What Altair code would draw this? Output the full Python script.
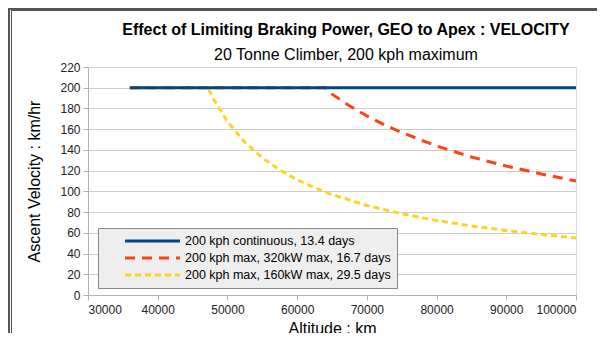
import altair as alt
import pandas as pd

series_names = [
    "200 kph continuous, 13.4 days",
    "200 kph max, 320kW max, 16.7 days",
    "200 kph max, 160kW max, 29.5 days",
]
series_colors = ["#004586", "#ff420e", "#ffd320"]
series_dashes = [[1, 0], [10, 7], [6, 4]]

# Series 1: constant 200 kph
alt_blue = [36000, 100000]
vel_blue = [200, 200]

# Series 2: 320 kW braking limit
alt_red = [36000, 64000, 65000, 67500, 70000, 72500, 75000, 80000, 85000, 90000, 95000, 100000]
vel_red = [200, 200, 193.8, 182.6, 172.8, 164.3, 156.8, 143.8, 133.2, 124.4, 116.8, 110.0]

# Series 3: 160 kW braking limit
alt_yel = [36000, 47200, 48000, 50000, 52500, 55000, 57500, 60000, 62500, 65000, 70000, 75000,
           80000, 85000, 90000, 95000, 100000]
vel_yel = [200, 200, 189.2, 167.4, 147.4, 132.4, 120.7, 111.2, 103.5, 96.9, 86.4, 78.4,
           71.9, 66.6, 62.2, 58.4, 55.0]

x_ticks = [30000, 40000, 50000, 60000, 70000, 80000, 90000, 100000]
y_ticks = [0, 20, 40, 60, 80, 100, 120, 140, 160, 180, 200, 220]

rows = []
for name, xs, ys in zip(series_names, [alt_blue, alt_red, alt_yel], [vel_blue, vel_red, vel_yel]):
    for x, y in zip(xs, ys):
        rows.append({"series": name, "altitude": x, "velocity": y})
df = pd.DataFrame(rows)

color_scale = alt.Scale(domain=series_names, range=series_colors)
dash_scale = alt.Scale(domain=series_names, range=series_dashes)

legend = alt.Legend(
    title=None,
    orient="none",
    legendX=10,
    legendY=161,
    fillColor="#eeeeee",
    strokeColor="#888888",
    padding=6,
    symbolType="M-5,0H5",
    symbolSize=121,
    symbolStrokeWidth=3,
    symbolOffset=41.5,
    labelFontSize=12.5,
    labelFont="Liberation Sans",
    labelColor="#000000",
    labelOffset=25.5,
    labelLimit=400,
    rowPadding=3,
    offset=0,
)

x_enc = alt.X(
    "altitude:Q",
    scale=alt.Scale(domain=[30000, 100000], nice=False),
    axis=alt.Axis(
        values=x_ticks, format="d", grid=False, title="Altitude : km",
        labelFontSize=12, titleFontSize=16, titleFontWeight="normal",
        labelColor="#222222", titleColor="#000000", titlePadding=5,
        tickColor="#b3b3b3", domainColor="#b3b3b3", tickSize=5, labelPadding=4,
        labelFont="Liberation Sans", titleFont="Liberation Sans",
    ),
)
y_enc = alt.Y(
    "velocity:Q",
    scale=alt.Scale(domain=[0, 220], nice=False),
    axis=alt.Axis(
        values=y_ticks, grid=True, gridColor="#cccccc", title="Ascent Velocity : km/hr",
        labelFontSize=12, titleFontSize=16, titleFontWeight="normal",
        labelColor="#222222", titleColor="#000000", titlePadding=17,
        tickColor="#b3b3b3", domainColor="#b3b3b3", tickSize=5, labelPadding=3,
        labelFont="Liberation Sans", titleFont="Liberation Sans",
    ),
)

enc = dict(
    x=x_enc,
    y=y_enc,
    color=alt.Color("series:N", scale=color_scale, legend=legend, sort=series_names),
    strokeDash=alt.StrokeDash("series:N", scale=dash_scale, legend=legend, sort=series_names),
)

lines_under = alt.Chart(df).transform_filter(
    alt.datum.series != series_names[0]
).mark_line(strokeWidth=3, strokeCap="butt").encode(**enc)
lines_top = alt.Chart(df).transform_filter(
    alt.datum.series == series_names[0]
).mark_line(strokeWidth=3, strokeCap="butt").encode(**enc)

frame_color = "#555555"
frame = [
    alt.Chart(df).mark_rule(color=frame_color, strokeWidth=1.5).encode(
        x=alt.value(-79.5), y=alt.value(-59), y2=alt.value(300)),
    alt.Chart(df).mark_rule(color=frame_color, strokeWidth=1).encode(
        x=alt.value(-76.5), y=alt.value(-56.5), y2=alt.value(300)),
    alt.Chart(df).mark_rule(color=frame_color, strokeWidth=1.5).encode(
        y=alt.value(-58.5), x=alt.value(-80), x2=alt.value(520)),
    alt.Chart(df).mark_rule(color=frame_color, strokeWidth=1).encode(
        y=alt.value(-56.5), x=alt.value(-76.5), x2=alt.value(520)),
]

chart = alt.layer(lines_under, lines_top, *frame).properties(
    width=488,
    height=228,
    autosize=alt.AutoSizeParams(type="none"),
    padding={"left": 80, "top": 59, "right": 21, "bottom": 38},
    title=alt.TitleParams(
        text="Effect of Limiting Braking Power, GEO to Apex : VELOCITY",
        subtitle="20 Tonne Climber, 200 kph maximum",
        fontSize=16, fontWeight="bold", font="Liberation Sans", color="#000000",
        subtitleFontSize=16, subtitleFont="Liberation Sans", subtitleColor="#000000",
        subtitlePadding=9, anchor="middle", dx=14, offset=-56, frame="group",
    ),
).configure_view(stroke="#b3b3b3").configure(background="white")

chart.save("out.html", embed_options={"renderer": "svg", "actions": False})
